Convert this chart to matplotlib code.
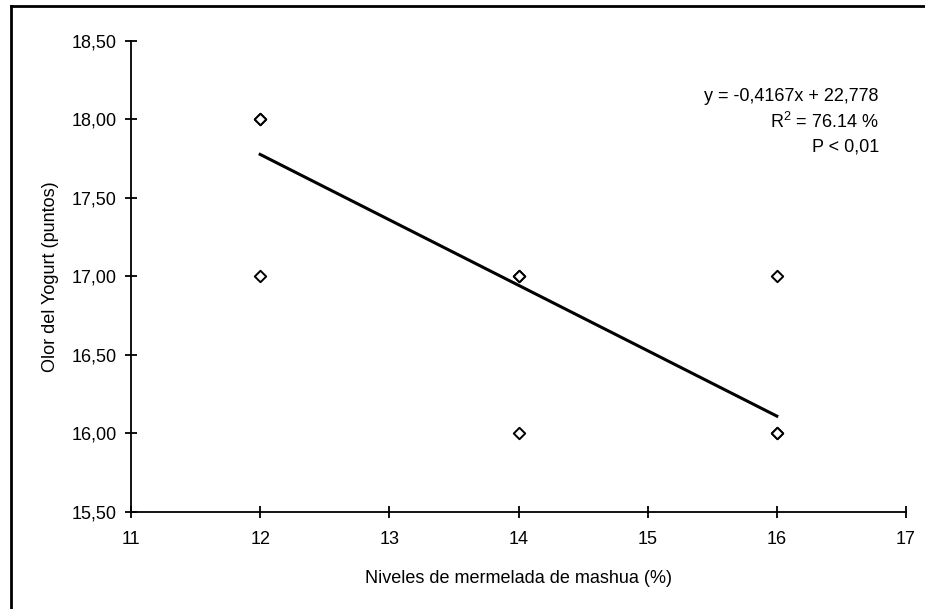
import matplotlib
matplotlib.use("Agg")
import matplotlib.pyplot as plt
from matplotlib.lines import Line2D
from matplotlib.ticker import FuncFormatter

x_vals = [12, 12, 12, 14, 14, 14, 16, 16, 16]
y_vals = [18, 18, 17, 17, 17, 16, 17, 16, 16]
slope = -0.4167
intercept = 22.778
line_x = [12, 16]
x_ticks = [11, 12, 13, 14, 15, 16, 17]
y_ticks = [15.5, 16.0, 16.5, 17.0, 17.5, 18.0, 18.5]

plt.rcParams['font.family'] = ['Liberation Sans', 'DejaVu Sans']

fig = plt.figure(figsize=(9.25, 6.09), dpi=100)
ax = fig.add_axes([131/925, 1-512/609, (906-131)/925, (512-41)/609])

ax.scatter(x_vals, y_vals, marker='D', s=34, facecolors='white',
           edgecolors='black', linewidths=1.4, zorder=3)
ax.plot(line_x, [slope*v + intercept for v in line_x], color='black', lw=2.2, zorder=2)

ax.set_xlim(11, 17)
ax.set_ylim(15.5, 18.5)
ax.set_xticks(x_ticks)
ax.set_yticks(y_ticks)
ax.yaxis.set_major_formatter(FuncFormatter(lambda v, p: f"{v:.2f}".replace('.', ',')))
ax.xaxis.set_major_formatter(FuncFormatter(lambda v, p: f"{int(v)}"))
for s in ['top', 'right']:
    ax.spines[s].set_visible(False)
for s in ['left', 'bottom']:
    ax.spines[s].set_linewidth(1.3)
ax.tick_params(direction='inout', length=9, width=1.3, labelsize=13)
ax.tick_params(axis='y', pad=6)
ax.tick_params(axis='x', pad=9)

ax.set_xlabel("Niveles de mermelada de mashua (%)", fontsize=13, labelpad=16)
ax.set_ylabel("Olor del Yogurt (puntos)", fontsize=13, labelpad=9)

ax.text(0.965, 0.90, "y = -0,4167x + 22,778\n$\\mathregular{R^2}$ = 76.14 %\nP < 0,01",
        transform=ax.transAxes, ha='right', va='top', fontsize=13, linespacing=1.45)

fig.add_artist(Line2D([11/925, 11/925], [-0.01, 1-6/609], transform=fig.transFigure,
                      color='black', lw=2))
fig.add_artist(Line2D([11/925, 1.01], [1-6/609, 1-6/609], transform=fig.transFigure,
                      color='black', lw=2))

fig.savefig("out.png", dpi=100)
